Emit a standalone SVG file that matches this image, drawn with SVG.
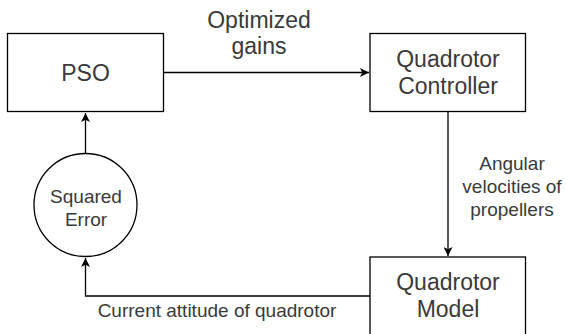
<svg xmlns="http://www.w3.org/2000/svg" width="566" height="334" viewBox="0 0 566 334">
<defs>
<style>
.box{fill:#fff;stroke:#000;stroke-width:1.3}
.edge{fill:none;stroke:#000;stroke-width:1.3}
.big{font-family:"Liberation Sans",Arial,sans-serif;font-size:23px;fill:#3a3a3a;text-anchor:middle}
.sm{font-family:"Liberation Sans",Arial,sans-serif;font-size:19px;fill:#3a3a3a;text-anchor:middle}
</style>
<marker id="arr" viewBox="0 0 10 10" refX="10" refY="5" markerWidth="9" markerHeight="9" markerUnits="userSpaceOnUse" orient="auto">
<path d="M0,0 L10,5 L0,10 L2.5,5 Z" fill="#000"/>
</marker>
</defs>
<rect width="566" height="334" fill="#fff"/>
<g id="connectors">
<line class="edge" x1="163.5" y1="72.5" x2="369" y2="72.5" marker-end="url(#arr)"/>
<line class="edge" x1="448" y1="112" x2="448" y2="256" marker-end="url(#arr)"/>
<polyline class="edge" points="370,296 85.5,296 85.5,258" marker-end="url(#arr)"/>
<line class="edge" x1="85.5" y1="153" x2="85.5" y2="113" marker-end="url(#arr)"/>
<text class="big" x="259" y="28">Optimized</text>
<text class="big" x="259" y="54">gains</text>
<text class="sm" x="512" y="170">Angular</text>
<text class="sm" x="512" y="193">velocities of</text>
<text class="sm" x="512" y="216">propellers</text>
<text class="sm" x="217" y="317">Current attitude of quadrotor</text>
</g>
<g id="pso">
<rect class="box" x="7.5" y="33.5" width="156" height="78"/>
<text class="big" x="85.5" y="80.5">PSO</text>
</g>
<g id="controller">
<rect class="box" x="370" y="33.5" width="155.5" height="78"/>
<text class="big" x="448" y="67">Quadrotor</text>
<text class="big" x="448" y="94">Controller</text>
</g>
<g id="model">
<rect class="box" x="370" y="257" width="155.5" height="80"/>
<text class="big" x="448" y="290">Quadrotor</text>
<text class="big" x="448" y="317">Model</text>
</g>
<g id="error">
<circle class="box" cx="85.5" cy="205" r="51.5"/>
<text class="sm" x="86" y="203">Squared</text>
<text class="sm" x="86" y="226">Error</text>
</g>
</svg>
